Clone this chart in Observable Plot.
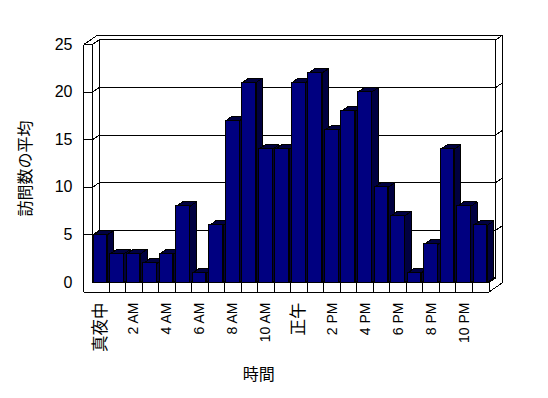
<!DOCTYPE html>
<html>
<head>
<meta charset="utf-8">
<script src="https://cdn.jsdelivr.net/npm/d3@7"></script>
<script src="https://cdn.jsdelivr.net/npm/@observablehq/plot@0.6"></script>
<style>
  body { margin: 0; background: #fff; }
  #chart svg { display: block; }
</style>
</head>
<body>
<svg width="0" height="0" style="position:absolute">
  <defs>
    <pattern id="dith" width="2" height="2" patternUnits="userSpaceOnUse">
      <rect width="2" height="2" fill="#000080"></rect>
      <rect width="1" height="1" fill="#000000"></rect>
      <rect x="1" y="1" width="1" height="1" fill="#000000"></rect>
    </pattern>
  </defs>
</svg>
<div id="chart"></div>
<script>
// ---- data ----
const hours = [0,1,2,3,4,5,6,7,8,9,10,11,12,13,14,15,16,17,18,19,20,21,22,23];
const visits = [5,3,3,2,3,8,1,6,17,21,14,14,21,22,16,18,20,10,7,1,4,14,8,6];
const tickHours = [0,2,4,6,8,10,12,14,16,18,20,22];
const tickLabels = ["真夜中","2 AM","4 AM","6 AM","8 AM","10 AM","正午","2 PM","4 PM","6 PM","8 PM","10 PM"];
const yTicks = [0,5,10,15,20,25];
const xTitle = "時間";
const yTitle = "訪問数の平均";

// ---- 3D geometry (in data units) ----
const N = hours.length, YMAX = 25;
const DX = 0.4, DY = 0.48;      // depth offset
const XL = -0.52;               // left wall outer edge
const FB = -1;                  // floor bottom
const B0 = 0.07, B1 = 0.9;      // bar front face within slot

const segs = [];
const S = (x1,y1,x2,y2) => segs.push({x1,y1,x2,y2});
// left wall
S(XL, YMAX, XL, FB);
S(0, YMAX, 0, 0);
S(XL, YMAX, 0, YMAX);
S(XL, YMAX, XL + 2*DX, YMAX + 2*DY);
S(0, YMAX, DX, YMAX + DY);
// back wall
S(XL + 2*DX, YMAX + 2*DY, N + 2*DX, YMAX + 2*DY);
S(DX, YMAX + DY, N + DX, YMAX + DY);
S(DX, YMAX + DY, DX, DY);
S(N + DX, YMAX + DY, N + DX, DY);
S(N + DX, YMAX + DY, N + 2*DX, YMAX + 2*DY);
S(N + 2*DX, YMAX + 2*DY, N + 2*DX, FB + 2*DY);
// floor
S(XL, FB, N, FB);
S(0, 0, N, 0);
S(N, 0, N, FB);
S(N, FB, N + 2*DX, FB + 2*DY);
S(N, 0, N + DX, DY);
S(DX, DY, N + DX, DY);
hours.slice(1).forEach(h => S(h, 0, h, FB));
// gridlines + ticks
yTicks.filter(v => v > 0 && v < YMAX).forEach(v => {
  S(XL, v, 0, v);
  S(0, v, DX, v + DY);
  S(DX, v + DY, N + DX, v + DY);
  S(N + DX, v + DY, N + 2*DX, v + 2*DY);
});

// bar polygons
const poly = (i, pts) => pts.map(([x, y]) => ({i, x, y}));
const sides = visits.flatMap((v, i) => poly(i, [
  [i+B1, 0], [i+B1+DX, DY], [i+B1+DX, v+DY], [i+B1, v], [i+B1, 0]]));
const tops = visits.flatMap((v, i) => poly(i, [
  [i+B0, v], [i+B1, v], [i+B1+DX, v+DY], [i+B0+DX, v+DY], [i+B0, v]]));
const bars = hours.map((h, i) => ({h, v: visits[i], x1: h + B0, x2: h + B1}));

const latin = "'Liberation Sans', Arial, 'Noto Sans CJK JP', sans-serif";
const cjk = "'Noto Sans CJK JP', sans-serif";
const isCJK = s => /[^\x00-\x7F]/.test(s);
const xTicks = tickHours.map((h, i) => ({h, label: tickLabels[i]}));

const chart = Plot.plot({
  width: 548,
  height: 398,
  marginLeft: 92,
  marginRight: 59.5,
  marginTop: 44,
  marginBottom: 116,
  style: {background: "#fff", color: "#000", shapeRendering: "crispEdges"},
  x: {type: "linear", domain: [0, N], axis: null},
  y: {type: "linear", domain: [0, YMAX], axis: null},
  marks: [
    Plot.link(segs, {x1: "x1", y1: "y1", x2: "x2", y2: "y2", stroke: "#000", strokeWidth: 1}),
    Plot.line(sides, {x: "x", y: "y", z: "i", fill: "url(#dith)", stroke: "#000", strokeWidth: 1, strokeLinejoin: "miter"}),
    Plot.line(tops, {x: "x", y: "y", z: "i", fill: "url(#dith)", stroke: "#000", strokeWidth: 1, strokeLinejoin: "miter"}),
    Plot.rect(bars, {x1: "x1", x2: "x2", y1: 0, y2: "v", fill: "#000080", stroke: "#000", strokeWidth: 1}),
    Plot.text(yTicks, {y: d => d, frameAnchor: "left", dx: -20, textAnchor: "end", lineAnchor: "middle", text: d => String(d),
      fontSize: 16, fontFamily: latin, fill: "#000"}),
    Plot.text(xTicks.filter(d => !isCJK(d.label)), {x: d => d.h + 0.5, y: 0, dy: 20, rotate: -90, textAnchor: "end", lineAnchor: "middle",
      text: "label", fontSize: 14, fontFamily: latin, fill: "#000"}),
    Plot.text(xTicks.filter(d => isCJK(d.label)), {x: d => d.h + 0.5, y: 0, dy: 20, rotate: -90, textAnchor: "end", lineAnchor: "middle",
      text: "label", fontSize: 16.5, fontFamily: cjk, fill: "#000"}),
    Plot.text([xTitle], {frameAnchor: "bottom", dx: -32, dy: 92, text: d => d, fontSize: 16, fontFamily: cjk, fill: "#000", textAnchor: "middle", lineAnchor: "middle"}),
    Plot.text([yTitle], {frameAnchor: "left", dx: -67, dy: 5, rotate: -90, text: d => d, fontSize: 16, fontFamily: cjk, fill: "#000", textAnchor: "middle", lineAnchor: "middle"})
  ]
});
document.getElementById("chart").appendChild(chart);
</script>
</body>
</html>
